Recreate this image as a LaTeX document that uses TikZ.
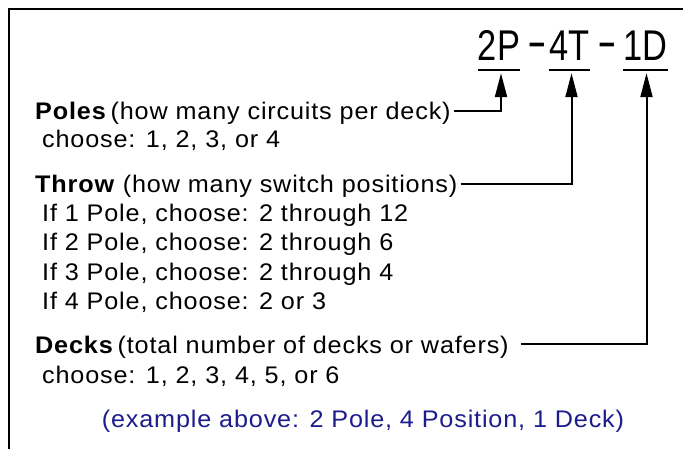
\documentclass[tikz,border=0pt]{standalone}
\usepackage{fontspec}
\setmainfont{Liberation Sans}[FakeStretch=1.05,LetterSpace=3.5]
\newfontfamily\codefont{Liberation Sans}[FakeStretch=0.8]
\newfontfamily\dashfont{Liberation Sans}[FakeStretch=1.25]
\usetikzlibrary{arrows.meta,positioning}
\definecolor{cex}{RGB}{28,28,140}
\definecolor{cax}{RGB}{0,0,0}

\begin{document}
\begin{tikzpicture}[x=1pt,y=-1pt,
  >={Triangle[length=24pt,width=12pt]},
  txt/.style={anchor=base west,inner sep=0pt,text depth=0pt,font=\fontsize{24}{27}\selectfont},
  code/.style={anchor=base,inner sep=0pt,font=\codefont\fontsize{43}{46}\selectfont},
  sepch/.style={anchor=base,inner sep=0pt,font=\dashfont\fontsize{47}{50}\selectfont},
  uline/.style={cax,line width=2.5pt},
  conn/.style={cax,line width=2pt,->},
  frame/.style={cax,line width=1.5pt},
]
\useasboundingbox (0,0) rectangle (683,449);

% ============================ frame (open at right and bottom) ============================
\draw[frame] (9,449) -- (9,9) -- (683,9);

% ============================ part number ============================
\node[code]  (p)  at (499,61)   {2P};
\node[sepch] (h1) at (537,58)   {-};
\node[code]  (t)  at (569.5,61) {4T};
\node[sepch] (h2) at (607,58)   {-};
\node[code]  (d)  at (645.5,61) {1D};
% underline each field
\foreach \c in {p,t,d}{
  \draw[uline] ([yshift=-9pt]\c.south west) -- ([yshift=-9pt]\c.south east);}

% ============================ poles ============================
\node[txt] (poles)  at (35,120) {\textbf{Poles}\,(how many circuits per deck)};
\node[txt] (polesc) at (42,148) {choose: 1, 2, 3, or 4};

% ============================ throw ============================
\node[txt] (throw) at (35,193) {\textbf{Throw} (how many switch positions)};
\foreach \n/\r [count=\i] in {1/2 through 12,2/2 through 6,3/2 through 4,4/2 or 3}{
  \node[txt] (if\i) at (42,{193+29*\i}) {If \n\ Pole, choose: \r};}

% ============================ decks ============================
\node[txt] (decks)  at (35,353) {\textbf{Decks}\,(total number of decks or wafers)};
\node[txt] (decksc) at (42,383) {choose: 1, 2, 3, 4, 5, or 6};

% example line
\node[txt,anchor=base,text=cex] (ex) at (363,427) {(example above: 2 Pole, 4 Position, 1 Deck)};

% ============================ connectors ============================
\draw[conn] ([xshift=3pt]poles.east) -| ([xshift=2pt,yshift=-12pt]p.south);
\draw[conn] ([xshift=3pt]throw.east) -| ([xshift=2pt,yshift=-12pt]t.south);
\draw[conn] ([xshift=12pt]decks.east) -| ([xshift=1pt,yshift=-12pt]d.south);

\end{tikzpicture}
\end{document}
